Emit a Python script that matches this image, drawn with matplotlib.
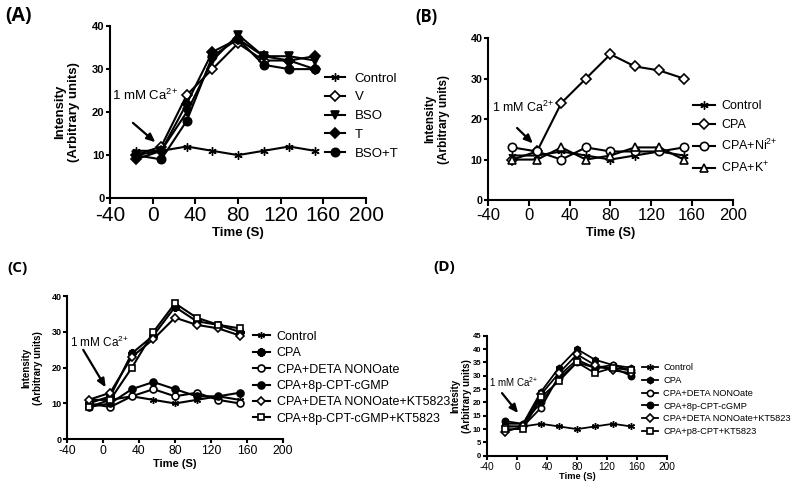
import matplotlib
matplotlib.use("Agg")
import matplotlib.pyplot as plt

plt.rcParams['font.family'] = ['Liberation Sans', 'DejaVu Sans']
plt.rcParams['mathtext.default'] = 'regular'
plt.rcParams['axes.unicode_minus'] = False

# sampling times (s)
time_s = [-16, 8, 32, 56, 80, 104, 128, 152]

# panel A
a_labels = ["Control", "V", "BSO", "T", "BSO+T"]
a_control = [11, 11, 12, 11, 10, 11, 12, 11]
a_v = [10, 12, 24, 30, 36, 32, 32, 30]
a_bso = [10, 11, 20, 32, 38, 33, 33, 32]
a_t = [9, 11, 22, 34, 37, 33, 32, 33]
a_bso_t = [10, 9, 18, 33, 37, 31, 30, 30]

# panel B
b_labels = ["Control", "CPA", "CPA+Ni$^{2{+}}$", "CPA+K$^{{+}}$"]
b_control = [11, 11, 12, 11, 10, 11, 12, 11]
b_cpa = [10, 12, 24, 30, 36, 33, 32, 30]
b_ni = [13, 12, 10, 13, 12, 12, 12, 13]
b_k = [10, 10, 13, 10, 11, 13, 13, 10]

# panel C
c_labels = ["Control", "CPA", "CPA+DETA NONOate", "CPA+8p-CPT-cGMP",
            "CPA+DETA NONOate+KT5823", "CPA+8p-CPT-cGMP+KT5823"]
c_control = [11, 11, 12, 11, 10, 11, 12, 11]
c_cpa = [10, 12, 24, 29, 37, 33, 32, 30]
c_deta = [10, 9, 12, 14, 12, 13, 11, 10]
c_cgmp = [9, 10, 14, 16, 14, 12, 12, 13]
c_deta_kt = [11, 13, 23, 28, 34, 32, 31, 29]
c_cgmp_kt = [9, 11, 20, 30, 38, 34, 32, 31]

# panel D
d_labels = ["Control", "CPA", "CPA+DETA NONOate", "CPA+8p-CPT-cGMP",
            "CPA+DETA NONOate+KT5823", "CPA+p8-CPT+KT5823"]
d_control = [11, 11, 12, 11, 10, 11, 12, 11]
d_cpa = [12, 12, 24, 33, 40, 36, 34, 33]
d_deta = [11, 11, 18, 30, 36, 33, 34, 32]
d_cgmp = [13, 12, 20, 29, 35, 33, 33, 30]
d_deta_kt = [9, 11, 23, 31, 38, 34, 32, 31]
d_p8_kt = [10, 10, 22, 28, 35, 31, 33, 32]

ca_text = "1 mM Ca$^{2{+}}$"
ast6 = (6, 2, 0)
ast8 = (8, 2, 0)


def style_axes(ax, ymax, ystep, xt_size, yt_size, lab_size, xlab_y, tlen=4):
    ax.set_xlim(-40, 200)
    ax.set_ylim(0, ymax)
    ax.set_xticks(range(-40, 201, 40))
    ax.set_yticks(range(0, ymax + 1, ystep))
    for s in ["top", "right"]:
        ax.spines[s].set_visible(False)
    for s in ["left", "bottom"]:
        ax.spines[s].set_linewidth(1.5)
    ax.tick_params(axis="x", labelsize=xt_size, width=1.5, length=tlen, pad=1.5)
    ax.tick_params(axis="y", labelsize=yt_size, width=1.5, length=3, pad=1)
    for t in ax.get_yticklabels():
        t.set_fontweight("bold")
    ax.set_xlabel("Time (S)", fontweight="bold", fontsize=lab_size)
    ax.xaxis.set_label_coords(0.5, xlab_y)


def plot_series(ax, ys, marker, filled, ms, ls="-", mew=1.2, lw=1.5):
    ax.plot(time_s, ys, ls, color="black", lw=lw, marker=marker, ms=ms,
            mfc="black" if filled else "white", mec="black", mew=mew,
            clip_on=False)


def ca_arrow(ax, text_xy, start, end, size):
    ax.text(text_xy[0], text_xy[1], ca_text, fontsize=size, va="center", ha="left")
    ax.annotate("", xy=end, xytext=start,
                arrowprops=dict(arrowstyle="-|>,head_length=0.5,head_width=0.22",
                                color="black", lw=1.6, shrinkA=0, shrinkB=0))


fig = plt.figure(figsize=(8, 4.88), dpi=100)

# (A)
ax = fig.add_axes([0.1375, 0.594, 0.32, 0.3525])
plot_series(ax, a_control, ast6, False, 6, mew=1.0)
plot_series(ax, a_v, "D", False, 5)
plot_series(ax, a_bso, "v", True, 6)
plot_series(ax, a_t, "D", True, 5, ls="")
plot_series(ax, a_bso_t, "o", True, 6)
style_axes(ax, 40, 10, 15, 8, 9.5, -0.17)
ax.set_ylabel("Intensity\n(Arbitrary units)", fontweight="bold", fontsize=9.5)
ax.yaxis.set_label_coords(-0.117, 0.5)
ca_arrow(ax, (-38, 24), (-18.5, 17.5), (2.5, 13), 9.5)
ax.legend(a_labels, loc="center left", bbox_to_anchor=(0.84, 0.477), frameon=False,
          borderaxespad=0, borderpad=0, fontsize=9.5, handlelength=1.5,
          handletextpad=0.75, labelspacing=0.5)
fig.text(5 / 800, 1 - 6 / 488, "(A)", fontsize=14, fontweight="bold",
         family="Open Sans", va="top")

# (B)
ax = fig.add_axes([0.61, 0.59, 0.306, 0.332])
plot_series(ax, b_control, ast6, False, 6, mew=1.0)
plot_series(ax, b_cpa, "D", False, 5)
plot_series(ax, b_ni, "o", False, 6)
plot_series(ax, b_k, "^", False, 6)
style_axes(ax, 40, 10, 12, 7.7, 9, -0.167)
ax.set_ylabel("Intensity\n(Arbitrary units)", fontweight="bold", fontsize=8.5)
ax.yaxis.set_label_coords(-0.155, 0.5)
ca_arrow(ax, (-36, 23), (-11.5, 17.8), (4, 14), 9)
ax.legend(b_labels, loc="center left", bbox_to_anchor=(0.837, 0.386), frameon=False,
          borderaxespad=0, borderpad=0, fontsize=9, handlelength=1.75,
          handletextpad=0.5, labelspacing=0.55)
fig.text(415 / 800, 1 - 8 / 488, "(B)", fontsize=12, fontweight="bold",
         family="Open Sans", va="top")

# (C)
ax = fig.add_axes([0.08375, 0.1, 0.27, 0.293])
plot_series(ax, c_control, ast6, False, 5, mew=1.0)
plot_series(ax, c_cpa, ast8, False, 6, mew=1.8)
plot_series(ax, c_deta, "o", False, 5)
plot_series(ax, c_cgmp, "o", True, 5)
plot_series(ax, c_deta_kt, "D", False, 4.5)
plot_series(ax, c_cgmp_kt, "s", False, 5)
style_axes(ax, 40, 10, 8.7, 6.5, 8, -0.135, tlen=3)
ax.set_ylabel("Intensity\n(Arbitrary units)", fontweight="bold", fontsize=7)
ax.yaxis.set_label_coords(-0.111, 0.5)
ca_arrow(ax, (-36.5, 27), (-22, 25), (3, 14.5), 8.5)
ax.legend(c_labels, loc="center left", bbox_to_anchor=(0.861, 0.43), frameon=False,
          borderaxespad=0, borderpad=0, fontsize=9, handlelength=1.36,
          handletextpad=0.55, labelspacing=0.35)
fig.text(7 / 800, 1 - 261 / 488, "(C)", fontsize=11, fontweight="bold",
         family="Open Sans", va="top")

# (D)
ax = fig.add_axes([0.60875, 0.066, 0.225, 0.246])
plot_series(ax, d_control, ast6, False, 5, mew=1.0, lw=1.3)
plot_series(ax, d_cpa, "h", True, 4.5, lw=1.3)
plot_series(ax, d_deta, "o", False, 4.5, lw=1.3)
plot_series(ax, d_cgmp, "o", True, 4.5, lw=1.3)
plot_series(ax, d_deta_kt, "D", False, 4, lw=1.3)
plot_series(ax, d_p8_kt, "s", False, 4.5, lw=1.3)
style_axes(ax, 45, 5, 7.3, 5.5, 6.7, -0.135, tlen=3)
ax.set_ylabel("Intesity\n(Arbitrary units)", fontweight="bold", fontsize=7)
ax.yaxis.set_label_coords(-0.083, 0.5)
ca_arrow(ax, (-37, 27.5), (-20, 23.5), (1.5, 16), 7)
ax.legend(d_labels, loc="center left", bbox_to_anchor=(0.86, 0.467), frameon=False,
          borderaxespad=0, borderpad=0, fontsize=6.7, handlelength=1.7,
          handletextpad=0.6, labelspacing=0.4)
fig.text(433 / 800, 1 - 260 / 488, "(D)", fontsize=11, fontweight="bold",
         family="Open Sans", va="top")

fig.savefig("out.png", dpi=100)
